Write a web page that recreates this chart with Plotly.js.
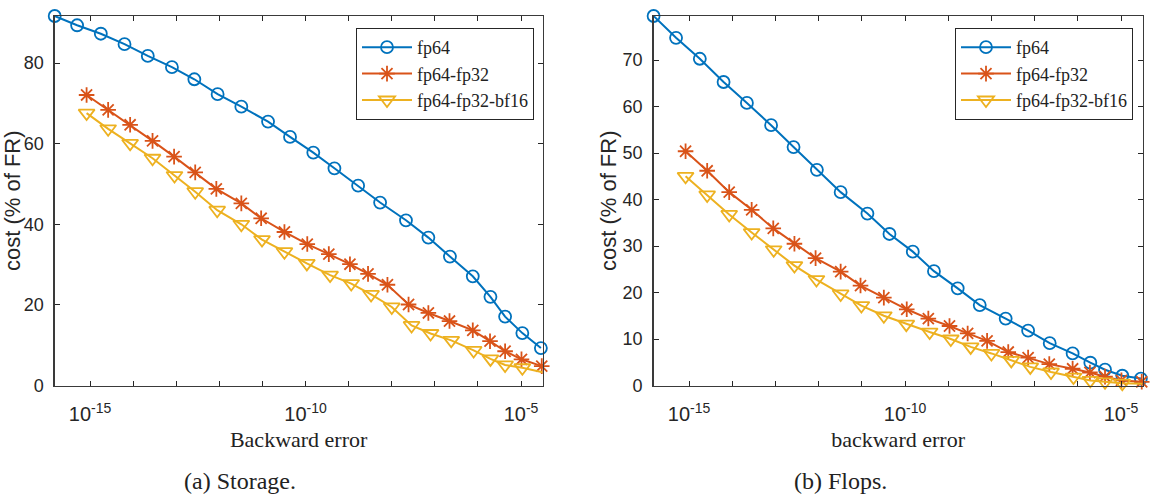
<!DOCTYPE html>
<html>
<head>
<meta charset="utf-8">
<script src="https://cdn.plot.ly/plotly-3.0.1.min.js"></script>
<style>
  html, body { margin: 0; padding: 0; background: #ffffff; }
  #chart { width: 1150px; height: 497px; }
</style>
</head>
<body>
<div id="chart"></div>
<script>
// Backward error reached by each precision configuration (log10 of the error)
const errFp64 = [-15.82, -15.30, -14.75, -14.20, -13.66, -13.10, -12.58, -12.04, -11.49, -10.87, -10.36, -9.82,
                 -9.33, -8.78, -8.27, -7.67, -7.15, -6.65, -6.12, -5.71, -5.37, -4.97, -4.54];
const errFp32 = [-15.08, -14.58, -14.07, -13.55, -13.05, -12.56, -12.07, -11.49, -11.03, -10.49, -9.96, -9.46,
                 -8.97, -8.55, -8.10, -7.61, -7.15, -6.66, -6.12, -5.72, -5.37, -4.99, -4.52];
const errBf16 = [-15.08, -14.58, -14.07, -13.55, -13.04, -12.56, -12.05, -11.49, -11.01, -10.49, -9.97, -9.43,
                 -8.94, -8.48, -8.00, -7.54, -7.10, -6.62, -6.10, -5.71, -5.37, -4.97, -4.50];

// Storage cost (% of FR)
const storageFp64 = [91.7, 89.4, 87.3, 84.7, 81.8, 79.0, 76.0, 72.3, 69.2, 65.5, 61.7, 57.8,
                     53.9, 49.6, 45.4, 41.0, 36.7, 32.0, 27.1, 22.0, 17.1, 13.0, 9.3];
const storageFp32 = [72.1, 68.4, 64.7, 60.7, 56.8, 52.9, 48.8, 45.2, 41.5, 38.1, 35.1, 32.6,
                     30.1, 27.7, 25.0, 20.1, 18.0, 16.0, 13.7, 11.0, 8.5, 6.5, 4.8];
const storageBf16 = [67.6, 63.7, 60.1, 56.4, 52.1, 48.1, 43.5, 40.0, 36.2, 33.2, 30.3, 27.4,
                     25.3, 22.6, 19.5, 14.9, 12.9, 11.2, 8.7, 6.6, 5.1, 4.4, 3.3];

// Flops cost (% of FR)
const flopsFp64 = [79.5, 74.8, 70.3, 65.3, 60.8, 56.0, 51.3, 46.4, 41.6, 37.0, 32.6, 28.8,
                   24.6, 20.9, 17.3, 14.4, 11.8, 9.1, 6.9, 4.9, 3.4, 2.1, 1.5];
const flopsFp32 = [50.4, 46.2, 41.6, 37.8, 33.8, 30.5, 27.4, 24.5, 21.5, 18.9, 16.4, 14.4,
                   12.8, 11.2, 9.6, 7.2, 6.0, 4.6, 3.6, 2.8, 1.9, 1.1, 0.8];
const flopsBf16 = [45.0, 41.0, 36.8, 32.9, 29.2, 25.8, 22.8, 19.7, 17.2, 15.0, 13.2, 11.5,
                   10.0, 8.3, 6.9, 5.4, 4.0, 2.9, 1.8, 1.1, 0.8, 0.5, 0.4];

const seriesNames = ['fp64', 'fp64-fp32', 'fp64-fp32-bf16'];
const labelExps = [-15, -10, -5];
const labelText = ['10<sup>-15</sup>', '10<sup>-10</sup>', '10<sup>-5</sup>'];
const decadeExps = [-15, -14, -13, -12, -11, -10, -9, -8, -7, -6, -5];
const storageTicks = [0, 20, 40, 60, 80];
const flopsTicks = [0, 10, 20, 30, 40, 50, 60, 70];
const captions = ['(a) Storage.', '(b) Flops.'];
const xTitles = ['Backward error', 'backward error'];

const toErr = a => a.map(e => Math.pow(10, e));

const colors = ['#0072BD', '#D95319', '#EDB120'];
const symbols = ['circle-open', 'asterisk-open', 'triangle-down-open'];
const msizes = [12, 13, 14];
const errs = [errFp64, errFp32, errBf16];

function makeTraces(vals, xa, ya, legendId) {
  return vals.map((v, i) => ({
    type: 'scatter',
    mode: 'lines+markers',
    name: seriesNames[i],
    x: toErr(errs[i]),
    y: v,
    xaxis: xa,
    yaxis: ya,
    legend: legendId,
    cliponaxis: false,
    line: { color: colors[i], width: 2 },
    marker: { symbol: symbols[i], size: msizes[i], color: colors[i],
              line: { color: colors[i], width: 1.8 } }
  }));
}

const data = [
  ...makeTraces([storageFp64, storageFp32, storageBf16], 'x', 'y', 'legend'),
  ...makeTraces([flopsFp64, flopsFp32, flopsBf16], 'x2', 'y2', 'legend2')
];

const axisInk = '#262626';
const sans = '"Liberation Sans", Arial, Helvetica, sans-serif';
const serif = '"Liberation Serif", "Times New Roman", serif';
const W = 1150, H = 497;

function xAxis(domain, title, anchor) {
  return {
    domain: domain, anchor: anchor, type: 'log',
    range: [-15.82, -4.50],
    tickmode: 'array', tickvals: toErr(labelExps), ticktext: labelText,
    ticks: 'inside', ticklen: 5, tickwidth: 1, tickcolor: axisInk,
    minor: { tickmode: 'array', tickvals: toErr(decadeExps), ticks: 'inside',
             ticklen: 5, tickwidth: 1, tickcolor: axisInk, showgrid: false },
    mirror: 'allticks', showline: true, linecolor: '#3a3a3a', linewidth: 1.4,
    showgrid: false, zeroline: false,
    tickfont: { family: sans, size: 20, color: axisInk },
    ticklabelstandoff: 10,
    title: { text: title, font: { family: serif, size: 22, color: '#222' }, standoff: 7 }
  };
}

function yAxis(domain, range, ticks, anchor) {
  return {
    domain: domain, anchor: anchor, range: range,
    tickmode: 'array', tickvals: ticks,
    ticks: 'inside', ticklen: 5, tickwidth: 1, tickcolor: axisInk,
    mirror: 'allticks', showline: true, linecolor: '#3a3a3a', linewidth: 1.4,
    showgrid: false, zeroline: false,
    tickfont: { family: sans, size: 18, color: axisInk },
    ticklabelstandoff: 6,
    title: { text: 'cost (% of FR)', font: { family: sans, size: 22, color: axisInk }, standoff: 0 }
  };
}

const yDom = [1 - 385.5 / H, 1 - 16 / H];

function legendBox(xRight) {
  return {
    x: xRight / W, y: 1 - 28 / H, xanchor: 'right', yanchor: 'top',
    bgcolor: '#ffffff', bordercolor: axisInk, borderwidth: 1,
    font: { family: serif, size: 18, color: '#222' },
    itemwidth: 50, tracegroupgap: 0
  };
}

const layout = {
  width: W, height: H,
  margin: { l: 0, r: 0, t: 0, b: 0 },
  paper_bgcolor: '#ffffff', plot_bgcolor: '#ffffff',
  showlegend: true,
  xaxis: xAxis([54.7 / W, 542.6 / W], xTitles[0], 'y'),
  yaxis: yAxis(yDom, [0, 91.7], storageTicks, 'x'),
  xaxis2: xAxis([653.6 / W, 1142.6 / W], xTitles[1], 'y2'),
  yaxis2: yAxis(yDom, [0, 79.5], flopsTicks, 'x2'),
  legend: legendBox(534),
  legend2: legendBox(1133),
  annotations: [
    { text: captions[0], xref: 'paper', yref: 'paper', x: 240 / W, y: 1 - 481 / H,
      xanchor: 'center', yanchor: 'middle', showarrow: false,
      font: { family: serif, size: 24, color: '#222' } },
    { text: captions[1], xref: 'paper', yref: 'paper', x: 840 / W, y: 1 - 481 / H,
      xanchor: 'center', yanchor: 'middle', showarrow: false,
      font: { family: serif, size: 24, color: '#222' } }
  ]
};

Plotly.newPlot('chart', data, layout, { displayModeBar: false, staticPlot: true });
</script>
</body>
</html>
